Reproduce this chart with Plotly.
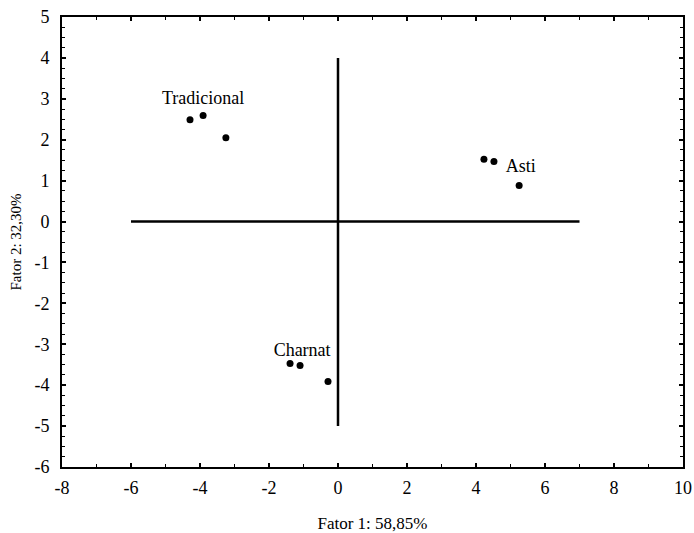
import plotly.graph_objects as go

# Factor scores for each sample group
groups = ["Tradicional", "Asti", "Charnat"]
fator1 = {
    "Tradicional": [-4.29, -3.91, -3.25],
    "Asti": [4.23, 4.52, 5.25],
    "Charnat": [-1.39, -1.10, -0.29],
}
fator2 = {
    "Tradicional": [2.49, 2.59, 2.05],
    "Asti": [1.52, 1.47, 0.88],
    "Charnat": [-3.47, -3.52, -3.91],
}
# Group label anchor positions (x, y)
label_x = [-3.91, 5.30, -1.04]
label_y = [2.98, 1.32, -3.18]

# Reference cross through the origin
cross_h_x = [-6, 7]
cross_v_y = [-5, 4]

# Axis tick values (labels written with a plain hyphen)
x_ticks = [-8, -6, -4, -2, 0, 2, 4, 6, 8, 10]
y_ticks = [-6, -5, -4, -3, -2, -1, 0, 1, 2, 3, 4, 5]

font_family = "Liberation Serif, Times New Roman, serif"

fig = go.Figure()

fig.add_trace(go.Scatter(x=cross_h_x, y=[0, 0], mode="lines",
                         line=dict(color="black", width=2.5), hoverinfo="skip"))
fig.add_trace(go.Scatter(x=[0, 0], y=cross_v_y, mode="lines",
                         line=dict(color="black", width=2.5), hoverinfo="skip"))

for g in groups:
    fig.add_trace(go.Scatter(x=fator1[g], y=fator2[g], mode="markers", name=g,
                             marker=dict(color="black", size=7)))

fig.add_trace(go.Scatter(x=label_x, y=label_y, mode="text", text=groups,
                         textfont=dict(family=font_family, size=18, color="black"),
                         hoverinfo="skip"))

axis_common = dict(
    showgrid=False, zeroline=False, showline=True, linecolor="black", linewidth=2,
    mirror="allticks", ticks="inside", ticklen=4, tickwidth=2, tickcolor="black",
    tickfont=dict(family=font_family, size=18, color="black"),
    automargin=False,
)

fig.update_layout(
    width=694, height=533,
    margin=dict(l=62, r=11, t=17, b=66),
    paper_bgcolor="white", plot_bgcolor="white",
    showlegend=False,
    font=dict(family=font_family, color="black"),
    xaxis=dict(range=[-8, 10], tickmode="array", tickvals=x_ticks,
               ticktext=[str(v) for v in x_ticks], ticklabelstandoff=3,
               minor=dict(dtick=1, ticks="inside", ticklen=3, tickcolor="black", tickwidth=1),
               title=dict(text="Fator 1: 58,85%", font=dict(family=font_family, size=17), standoff=24),
               **axis_common),
    yaxis=dict(range=[-6, 5], tickmode="array", tickvals=y_ticks,
               ticktext=[str(v) for v in y_ticks], ticklabelstandoff=7,
               minor=dict(dtick=0.25, ticks="inside", ticklen=3, tickcolor="black", tickwidth=1),
               title=dict(text="Fator 2: 32,30%", font=dict(family=font_family, size=15), standoff=9),
               **axis_common),
)

fig.write_html("out.html")
